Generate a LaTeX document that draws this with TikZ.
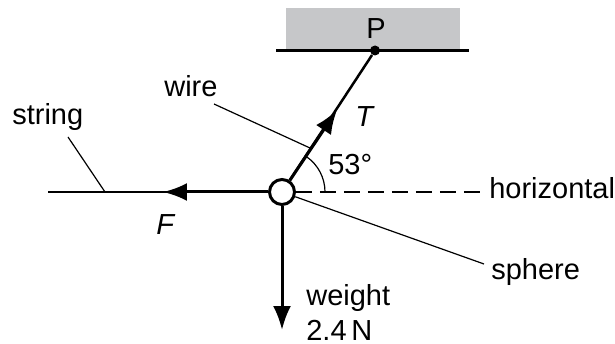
\documentclass[tikz,border=0pt]{standalone}
\usepackage{fontspec}
\setmainfont{Liberation Sans}
\usetikzlibrary{arrows.meta}

\begin{document}
\begin{tikzpicture}[x=0.02cm,y=-0.02cm,
  lab/.style={anchor=base west,inner sep=0pt,font=\fontsize{16.5}{18}\selectfont},
  force/.style={-{Latex[length=0.48cm,width=0.36cm]},line width=0.06cm,black},
  rope/.style={line width=0.05cm,black},
  leader/.style={line width=0.024cm,black}]
\definecolor{wall_gray}{RGB}{198,199,201} %#C6C7C9
\useasboundingbox (0,0) rectangle (615,344);

\coordinate (WE)  at (48,192);   % free end of the string
\coordinate (FT)  at (163,192);  % tip of F
\coordinate (TT)  at (337,110);  % tip of T
\coordinate (WT)  at (282,330);  % tip of weight
\coordinate (CA)  at (276,50.5);
\coordinate (CB)  at (469,50.5);
\coordinate (SA)  at (105,192);
\coordinate (SB)  at (68,137);
\coordinate (WA)  at (310,148);
\coordinate (WB)  at (214,104);
\coordinate (HE)  at (479.5,192);
\coordinate (HA)  at (325,192);
\coordinate (LB)  at (484,264);

\fill [wall_gray] (286,8) rectangle (460,50.5);
\draw [line width=0.05cm] (CA) -- (CB);

\node [circle,fill=black,inner sep=0pt,minimum size=0.2cm] (pin) at (375,50.5) {};
\node [circle,draw=black,fill=white,line width=0.06cm,inner sep=0pt,minimum size=0.5cm] (ball) at (282,192) {};

\node [lab] (pP) at (366,39) {P};
\node [lab] (pstring) at (12,125) {string};
\node [lab] (pwire) at (164,97) {wire};
\node [lab,font=\fontsize{16.5}{18}\selectfont\itshape] (pT) at (355,127) {T};
\node [lab,font=\fontsize{16.5}{18}\selectfont\itshape] (pF) at (156,235) {F};
\node [lab] (pangle) at (328,175) {53°};
\node [lab] (phor) at (489,199) {horizontal};
\node [lab] (psphere) at (491,279) {sphere};
\node [lab] (pweight) at (306,305) {weight};
\node [lab] (pval) at (306,340) {2.4\,N};

\draw [rope] (ball) -- (pin);
\draw [force] (ball) -- (TT);
\draw [rope] (ball) -- (WE);
\draw [force] (ball) -- (FT);
\draw [force] (ball) -- (WT);

\draw [leader,dash pattern=on 0.32cm off 0.16cm] (ball) -- (HE);
\draw [leader] (WB) -- (WA);
\draw [leader] (SB) -- (SA);
\draw [leader] (ball) -- (LB);
\draw [leader] (HA) arc [start angle=0,end angle=-55,radius=43];

\end{tikzpicture}
\end{document}
